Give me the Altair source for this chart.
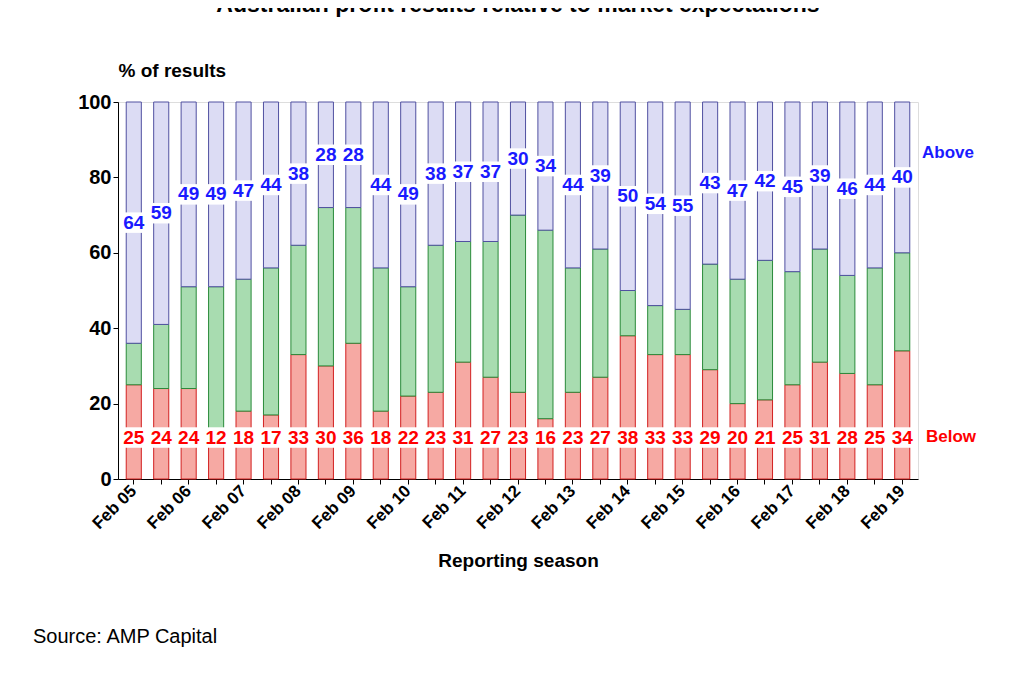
import pandas as pd
import altair as alt

seasons = []
for yr in range(5, 20):
    seasons.append("Feb %02d" % yr)
    if yr < 19:
        seasons.append("Aug %02d" % yr)

below = [25, 24, 24, 12, 18, 17, 33, 30, 36, 18, 22, 23, 31, 27, 23, 16, 23, 27, 38, 33,
         33, 29, 20, 21, 25, 31, 28, 25, 34]
above = [64, 59, 49, 49, 47, 44, 38, 28, 28, 44, 49, 38, 37, 37, 30, 34, 44, 39, 50, 54,
         55, 43, 47, 42, 45, 39, 46, 44, 40]

rows = []
for s, b, a in zip(seasons, below, above):
    rows.append({"season": s, "seg": "Below", "lo": 0, "hi": b})
    rows.append({"season": s, "seg": "Inline", "lo": b, "hi": 100 - a})
    rows.append({"season": s, "seg": "Above", "lo": 100 - a, "hi": 100})
df = pd.DataFrame(rows)

lab = pd.DataFrame({"season": seasons, "below": below, "above": above})
lab["above_pos"] = 100 - lab["above"] / 2
lab["below_pos"] = 11

xenc = alt.X("season:N", sort=seasons, scale=alt.Scale(paddingInner=0.45, paddingOuter=0.3),
             axis=alt.Axis(title="Reporting season", labelAngle=-45, labelAlign="right",
                           labelBaseline="middle", labelFontSize=17, labelFontWeight="bold",
                           labelColor="black", titleFontSize=19, titleFontWeight="bold",
                           titlePadding=20, ticks=True, tickColor="black", domainColor="black",
                           labelExpr="substring(datum.label, 0, 3) == 'Feb' ? datum.label : ''",
                           labelPadding=4))
yscale = alt.Scale(domain=[0, 100])

bars = alt.Chart(df).mark_bar(strokeWidth=1).encode(
    x=xenc,
    y=alt.Y("lo:Q", scale=yscale,
            axis=alt.Axis(values=list(range(0, 101, 10)), title="% of results", titleAngle=0,
                          titleX=0, titleY=-22, titleAlign="left", titleFontSize=19,
                          titleFontWeight="bold", labelFontSize=20, labelFontWeight="bold",
                          labelColor="black", grid=False, domainColor="black", tickColor="black")),
    y2="hi:Q",
    fill=alt.Fill("seg:N", scale=alt.Scale(domain=["Below", "Inline", "Above"],
                                           range=["#f6a9a3", "#a8dcb0", "#dcdcf4"]), legend=None),
    stroke=alt.Stroke("seg:N", scale=alt.Scale(domain=["Below", "Inline", "Above"],
                                               range=["#d22020", "#2a8a3a", "#5050a0"]), legend=None),
)

base = alt.Chart(lab)
box_a = base.mark_square(size=420, color="white", opacity=1).encode(
    x=alt.X("season:N", sort=seasons), y=alt.Y("above_pos:Q", scale=yscale))
txt_a = base.mark_text(fontSize=19, fontWeight="bold", color="#1a1aff").encode(
    x=alt.X("season:N", sort=seasons), y=alt.Y("above_pos:Q", scale=yscale), text="above:Q")
box_b = base.mark_square(size=420, color="white", opacity=1).encode(
    x=alt.X("season:N", sort=seasons), y=alt.Y("below_pos:Q", scale=yscale))
txt_b = base.mark_text(fontSize=19, fontWeight="bold", color="#ff0000").encode(
    x=alt.X("season:N", sort=seasons), y=alt.Y("below_pos:Q", scale=yscale), text="below:Q")

notes = pd.DataFrame({"t": ["Above", "Below", "Source: AMP Capital"],
                      "x": [804, 808, -85], "y": [51, 335, 535],
                      "c": ["#1a1aff", "#ff0000", "black"], "w": ["bold", "bold", "normal"]})
note_bold = alt.Chart(notes[notes.w == "bold"]).mark_text(align="left", fontSize=17,
                                                         fontWeight="bold").encode(
    x=alt.X("x:Q", scale=None), y=alt.Y("y:Q", scale=None), text="t:N",
    color=alt.Color("c:N", scale=None))
note_src = alt.Chart(notes[notes.w == "normal"]).mark_text(align="left", fontSize=20,
                                                          color="black").encode(
    x=alt.X("x:Q", scale=None), y=alt.Y("y:Q", scale=None), text="t:N")

chart = alt.layer(bars, box_a, txt_a, box_b, txt_b, note_bold, note_src).properties(
    width=800, height=377,
    title=alt.TitleParams("Australian profit results relative to market expectations",
                          fontSize=23, fontWeight="bold", offset=44, anchor="middle"),
    autosize=alt.AutoSizeParams(type="none"),
    padding={"left": 110, "top": 94, "right": 95, "bottom": 170},
).configure_view(stroke=None).configure(font="Liberation Sans")

chart.save("out.html", embed_options={"renderer": "svg", "actions": False})
